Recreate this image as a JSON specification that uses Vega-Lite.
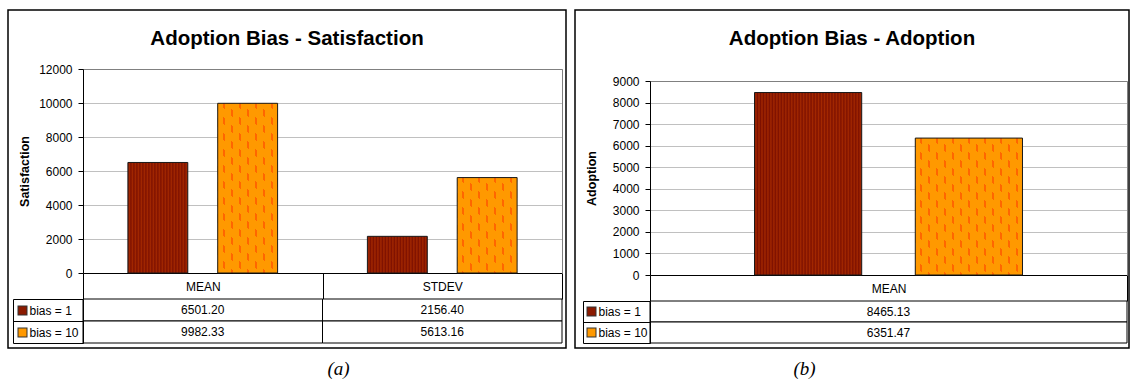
{
  "$schema": "https://vega.github.io/schema/vega-lite/v6.json",
  "background": "#ffffff",
  "padding": {"left": 7, "top": 3, "right": 0, "bottom": 0},
  "spacing": 7,
  "resolve": {"scale": {"xOffset": "independent"}},
  "config": {
    "font": "Liberation Sans",
    "view": {"stroke": "#000000", "strokeWidth": 1.5},
    "axis": {"labelFont": "Liberation Sans", "titleFont": "Liberation Sans", "labelColor": "#000000", "titleColor": "#000000"}
  },
  "datasets": {
    "sat": [
      {"category": "MEAN", "series": "bias = 1", "value": 6501.20},
      {"category": "MEAN", "series": "bias = 10", "value": 9982.33},
      {"category": "STDEV", "series": "bias = 1", "value": 2156.40},
      {"category": "STDEV", "series": "bias = 10", "value": 5613.16}
    ],
    "adopt": [
      {"category": "MEAN", "series": "bias = 1", "value": 8465.13},
      {"category": "MEAN", "series": "bias = 10", "value": 6351.47}
    ]
  },
  "hconcat": [
    {
      "width": 558,
      "height": 338,
      "data": {"name": "sat"},
      "title": {"text": "Adoption Bias - Satisfaction", "font": "Liberation Sans", "fontSize": 20.5, "fontWeight": "bold", "color": "#000000", "anchor": "middle", "frame": "group", "baseline": "alphabetic", "offset": -61.5},
      "resolve": {"scale": {"y": "independent"}},
      "layer": [
        {
          "transform": [{"filter": "datum.series === 'bias = 1'"}],
          "mark": {"type": "bar", "stroke": "#1a1a1a", "strokeWidth": 1,
            "fill": {"gradient": "linear", "x1": 0, "y1": 0, "x2": 1, "y2": 0, "stops": [
              {"offset": 0, "color": "#7D1000"}, {"offset": 0.025, "color": "#A32800"}, {"offset": 0.05, "color": "#7D1000"}, {"offset": 0.075, "color": "#A32800"},
              {"offset": 0.1, "color": "#7D1000"}, {"offset": 0.125, "color": "#A32800"}, {"offset": 0.15, "color": "#7D1000"}, {"offset": 0.175, "color": "#A32800"},
              {"offset": 0.2, "color": "#7D1000"}, {"offset": 0.225, "color": "#A32800"}, {"offset": 0.25, "color": "#7D1000"}, {"offset": 0.275, "color": "#A32800"},
              {"offset": 0.3, "color": "#7D1000"}, {"offset": 0.325, "color": "#A32800"}, {"offset": 0.35, "color": "#7D1000"}, {"offset": 0.375, "color": "#A32800"},
              {"offset": 0.4, "color": "#7D1000"}, {"offset": 0.425, "color": "#A32800"}, {"offset": 0.45, "color": "#7D1000"}, {"offset": 0.475, "color": "#A32800"},
              {"offset": 0.5, "color": "#7D1000"}, {"offset": 0.525, "color": "#A32800"}, {"offset": 0.55, "color": "#7D1000"}, {"offset": 0.575, "color": "#A32800"},
              {"offset": 0.6, "color": "#7D1000"}, {"offset": 0.625, "color": "#A32800"}, {"offset": 0.65, "color": "#7D1000"}, {"offset": 0.675, "color": "#A32800"},
              {"offset": 0.7, "color": "#7D1000"}, {"offset": 0.725, "color": "#A32800"}, {"offset": 0.75, "color": "#7D1000"}, {"offset": 0.775, "color": "#A32800"},
              {"offset": 0.8, "color": "#7D1000"}, {"offset": 0.825, "color": "#A32800"}, {"offset": 0.85, "color": "#7D1000"}, {"offset": 0.875, "color": "#A32800"},
              {"offset": 0.9, "color": "#7D1000"}, {"offset": 0.925, "color": "#A32800"}, {"offset": 0.95, "color": "#7D1000"}, {"offset": 0.975, "color": "#A32800"},
              {"offset": 1, "color": "#7D1000"}
            ]}
          },
          "encoding": {
            "x": {"field": "category", "type": "nominal",
              "scale": {"domain": ["MEAN", "STDEV"], "range": [75, 554], "paddingInner": 0, "paddingOuter": 0},
              "axis": {"orient": "bottom", "offset": -75, "domain": true, "domainColor": "#000000", "ticks": true, "tickBand": "extent", "tickSize": 26, "tickColor": "#000000",
                "labelAngle": 0, "labelBaseline": "middle", "labelPadding": -13, "labelFontSize": 12, "grid": false,
                "title": "(a)", "titleFont": "Liberation Serif", "titleFontStyle": "italic", "titleFontWeight": "normal", "titleFontSize": 19,
                "titleX": 330, "titleY": 95, "titleBaseline": "middle", "titleAlign": "center"}},
            "xOffset": {"field": "series", "type": "nominal", "scale": {"domain": ["bias = 1", "bias = 10"], "paddingInner": 0.3333, "paddingOuter": 0.5}},
            "y": {"field": "value", "type": "quantitative",
              "scale": {"domain": [0, 12000], "range": [263, 59], "nice": false, "zero": false},
              "axis": {"orient": "left", "offset": -75, "values": [0, 2000, 4000, 6000, 8000, 10000, 12000], "format": "d",
                "grid": true, "gridColor": "#c0c0c0", "gridWidth": 1, "domain": true, "domainColor": "#000000", "ticks": true, "tickSize": 5, "tickColor": "#000000",
                "labelPadding": 6, "labelFontSize": 12,
                "title": "Satisfaction", "titleFontSize": 12.5, "titleFontWeight": "bold", "titleX": -55, "titleBaseline": "alphabetic"}}
          }
        },
        {
          "transform": [{"filter": "datum.series === 'bias = 10'"}],
          "mark": {"type": "bar", "strokeWidth": 0,
            "fill": {"gradient": "linear", "x1": 0, "y1": 0, "x2": 1, "y2": 0, "stops": [
              {"offset": 0, "color": "#FF9900"},
              {"offset": 0.0833, "color": "#FF9900"}, {"offset": 0.0833, "color": "#FF6600"}, {"offset": 0.1167, "color": "#FF6600"}, {"offset": 0.1167, "color": "#FF9900"},
              {"offset": 0.2167, "color": "#FF9900"}, {"offset": 0.2167, "color": "#FF6600"}, {"offset": 0.25, "color": "#FF6600"}, {"offset": 0.25, "color": "#FF9900"},
              {"offset": 0.35, "color": "#FF9900"}, {"offset": 0.35, "color": "#FF6600"}, {"offset": 0.3833, "color": "#FF6600"}, {"offset": 0.3833, "color": "#FF9900"},
              {"offset": 0.4833, "color": "#FF9900"}, {"offset": 0.4833, "color": "#FF6600"}, {"offset": 0.5167, "color": "#FF6600"}, {"offset": 0.5167, "color": "#FF9900"},
              {"offset": 0.6167, "color": "#FF9900"}, {"offset": 0.6167, "color": "#FF6600"}, {"offset": 0.65, "color": "#FF6600"}, {"offset": 0.65, "color": "#FF9900"},
              {"offset": 0.75, "color": "#FF9900"}, {"offset": 0.75, "color": "#FF6600"}, {"offset": 0.7833, "color": "#FF6600"}, {"offset": 0.7833, "color": "#FF9900"},
              {"offset": 0.8833, "color": "#FF9900"}, {"offset": 0.8833, "color": "#FF6600"}, {"offset": 0.9167, "color": "#FF6600"}, {"offset": 0.9167, "color": "#FF9900"},
              {"offset": 1, "color": "#FF9900"}
            ]}
          },
          "encoding": {
            "x": {"field": "category", "type": "nominal",
              "axis": {"orient": "top", "offset": -59, "domain": true, "domainColor": "#808080", "ticks": false, "labels": false, "grid": false, "title": null}},
            "xOffset": {"field": "series", "type": "nominal"},
            "y": {"field": "value", "type": "quantitative",
              "scale": {"domain": [0, 12000], "range": [263, 59], "nice": false, "zero": false},
              "axis": {"orient": "right", "offset": -4, "domain": true, "domainColor": "#808080", "ticks": false, "labels": false, "grid": false, "title": null}}
          }
        },
        {
          "transform": [{"filter": "datum.series === 'bias = 10' && datum.category === 'MEAN'"}],
          "mark": {"type": "bar", "stroke": "#1a1a1a", "strokeWidth": 1,
            "fill": {"gradient": "linear", "x1": 1, "y1": 0, "x2": 0.4074, "y2": 1.6762, "stops": [
              {"offset": 0, "color": "#FF9900"},
              {"offset": 0.0125, "color": "#FF9900"}, {"offset": 0.0125, "color": "rgba(255,153,0,0)"}, {"offset": 0.0344, "color": "rgba(255,153,0,0)"}, {"offset": 0.0344, "color": "#FF9900"},
              {"offset": 0.0625, "color": "#FF9900"}, {"offset": 0.0625, "color": "rgba(255,153,0,0)"}, {"offset": 0.0844, "color": "rgba(255,153,0,0)"}, {"offset": 0.0844, "color": "#FF9900"},
              {"offset": 0.1125, "color": "#FF9900"}, {"offset": 0.1125, "color": "rgba(255,153,0,0)"}, {"offset": 0.1344, "color": "rgba(255,153,0,0)"}, {"offset": 0.1344, "color": "#FF9900"},
              {"offset": 0.1625, "color": "#FF9900"}, {"offset": 0.1625, "color": "rgba(255,153,0,0)"}, {"offset": 0.1844, "color": "rgba(255,153,0,0)"}, {"offset": 0.1844, "color": "#FF9900"},
              {"offset": 0.2125, "color": "#FF9900"}, {"offset": 0.2125, "color": "rgba(255,153,0,0)"}, {"offset": 0.2344, "color": "rgba(255,153,0,0)"}, {"offset": 0.2344, "color": "#FF9900"},
              {"offset": 0.2625, "color": "#FF9900"}, {"offset": 0.2625, "color": "rgba(255,153,0,0)"}, {"offset": 0.2844, "color": "rgba(255,153,0,0)"}, {"offset": 0.2844, "color": "#FF9900"},
              {"offset": 0.3125, "color": "#FF9900"}, {"offset": 0.3125, "color": "rgba(255,153,0,0)"}, {"offset": 0.3344, "color": "rgba(255,153,0,0)"}, {"offset": 0.3344, "color": "#FF9900"},
              {"offset": 0.3625, "color": "#FF9900"}, {"offset": 0.3625, "color": "rgba(255,153,0,0)"}, {"offset": 0.3844, "color": "rgba(255,153,0,0)"}, {"offset": 0.3844, "color": "#FF9900"},
              {"offset": 0.4125, "color": "#FF9900"}, {"offset": 0.4125, "color": "rgba(255,153,0,0)"}, {"offset": 0.4344, "color": "rgba(255,153,0,0)"}, {"offset": 0.4344, "color": "#FF9900"},
              {"offset": 0.4625, "color": "#FF9900"}, {"offset": 0.4625, "color": "rgba(255,153,0,0)"}, {"offset": 0.4844, "color": "rgba(255,153,0,0)"}, {"offset": 0.4844, "color": "#FF9900"},
              {"offset": 0.5125, "color": "#FF9900"}, {"offset": 0.5125, "color": "rgba(255,153,0,0)"}, {"offset": 0.5344, "color": "rgba(255,153,0,0)"}, {"offset": 0.5344, "color": "#FF9900"},
              {"offset": 0.5625, "color": "#FF9900"}, {"offset": 0.5625, "color": "rgba(255,153,0,0)"}, {"offset": 0.5844, "color": "rgba(255,153,0,0)"}, {"offset": 0.5844, "color": "#FF9900"},
              {"offset": 0.6125, "color": "#FF9900"}, {"offset": 0.6125, "color": "rgba(255,153,0,0)"}, {"offset": 0.6344, "color": "rgba(255,153,0,0)"}, {"offset": 0.6344, "color": "#FF9900"},
              {"offset": 0.6625, "color": "#FF9900"}, {"offset": 0.6625, "color": "rgba(255,153,0,0)"}, {"offset": 0.6844, "color": "rgba(255,153,0,0)"}, {"offset": 0.6844, "color": "#FF9900"},
              {"offset": 0.7125, "color": "#FF9900"}, {"offset": 0.7125, "color": "rgba(255,153,0,0)"}, {"offset": 0.7344, "color": "rgba(255,153,0,0)"}, {"offset": 0.7344, "color": "#FF9900"},
              {"offset": 0.7625, "color": "#FF9900"}, {"offset": 0.7625, "color": "rgba(255,153,0,0)"}, {"offset": 0.7844, "color": "rgba(255,153,0,0)"}, {"offset": 0.7844, "color": "#FF9900"},
              {"offset": 1, "color": "#FF9900"}
            ]}
          },
          "encoding": {
            "x": {"field": "category", "type": "nominal", "axis": null},
            "xOffset": {"field": "series", "type": "nominal"},
            "y": {"field": "value", "type": "quantitative", "scale": {"domain": [0, 12000], "range": [263, 59], "nice": false, "zero": false}, "axis": null}
          }
        },
        {
          "transform": [{"filter": "datum.series === 'bias = 10' && datum.category === 'STDEV'"}],
          "mark": {"type": "bar", "stroke": "#1a1a1a", "strokeWidth": 1,
            "fill": {"gradient": "linear", "x1": 1, "y1": 0, "x2": -0.5112, "y2": 2.4034, "stops": [
              {"offset": 0, "color": "#FF9900"},
              {"offset": 0.0125, "color": "#FF9900"}, {"offset": 0.0125, "color": "rgba(255,153,0,0)"}, {"offset": 0.0344, "color": "rgba(255,153,0,0)"}, {"offset": 0.0344, "color": "#FF9900"},
              {"offset": 0.0625, "color": "#FF9900"}, {"offset": 0.0625, "color": "rgba(255,153,0,0)"}, {"offset": 0.0844, "color": "rgba(255,153,0,0)"}, {"offset": 0.0844, "color": "#FF9900"},
              {"offset": 0.1125, "color": "#FF9900"}, {"offset": 0.1125, "color": "rgba(255,153,0,0)"}, {"offset": 0.1344, "color": "rgba(255,153,0,0)"}, {"offset": 0.1344, "color": "#FF9900"},
              {"offset": 0.1625, "color": "#FF9900"}, {"offset": 0.1625, "color": "rgba(255,153,0,0)"}, {"offset": 0.1844, "color": "rgba(255,153,0,0)"}, {"offset": 0.1844, "color": "#FF9900"},
              {"offset": 0.2125, "color": "#FF9900"}, {"offset": 0.2125, "color": "rgba(255,153,0,0)"}, {"offset": 0.2344, "color": "rgba(255,153,0,0)"}, {"offset": 0.2344, "color": "#FF9900"},
              {"offset": 0.2625, "color": "#FF9900"}, {"offset": 0.2625, "color": "rgba(255,153,0,0)"}, {"offset": 0.2844, "color": "rgba(255,153,0,0)"}, {"offset": 0.2844, "color": "#FF9900"},
              {"offset": 0.3125, "color": "#FF9900"}, {"offset": 0.3125, "color": "rgba(255,153,0,0)"}, {"offset": 0.3344, "color": "rgba(255,153,0,0)"}, {"offset": 0.3344, "color": "#FF9900"},
              {"offset": 0.3625, "color": "#FF9900"}, {"offset": 0.3625, "color": "rgba(255,153,0,0)"}, {"offset": 0.3844, "color": "rgba(255,153,0,0)"}, {"offset": 0.3844, "color": "#FF9900"},
              {"offset": 0.4125, "color": "#FF9900"}, {"offset": 0.4125, "color": "rgba(255,153,0,0)"}, {"offset": 0.4344, "color": "rgba(255,153,0,0)"}, {"offset": 0.4344, "color": "#FF9900"},
              {"offset": 0.4625, "color": "#FF9900"}, {"offset": 0.4625, "color": "rgba(255,153,0,0)"}, {"offset": 0.4844, "color": "rgba(255,153,0,0)"}, {"offset": 0.4844, "color": "#FF9900"},
              {"offset": 1, "color": "#FF9900"}
            ]}
          },
          "encoding": {
            "x": {"field": "category", "type": "nominal", "axis": null},
            "xOffset": {"field": "series", "type": "nominal"},
            "y": {"field": "value", "type": "quantitative", "scale": {"domain": [0, 12000], "range": [263, 59], "nice": false, "zero": false}, "axis": null}
          }
        },
        {
          "mark": {"type": "rect", "fill": "#ffffff", "stroke": "#000000", "strokeWidth": 1},
          "encoding": {
            "x": {"field": "category", "type": "nominal", "axis": null},
            "y": {"field": "series", "type": "nominal",
              "scale": {"type": "band", "domain": ["bias = 1", "bias = 10"], "range": [289, 333], "paddingInner": 0, "paddingOuter": 0},
              "axis": {"orient": "left", "offset": -75, "domain": true, "domainColor": "#000000", "ticks": true, "tickBand": "extent", "tickSize": 70, "tickColor": "#000000",
                "labels": true, "labelAlign": "left", "labelBaseline": "middle", "labelPadding": -16, "labelFontSize": 12, "grid": false, "title": null}}
          }
        },
        {
          "mark": {"type": "text", "font": "Liberation Sans", "fontSize": 12, "color": "#000000", "align": "center", "baseline": "middle"},
          "encoding": {
            "x": {"field": "category", "type": "nominal", "axis": null},
            "y": {"field": "series", "type": "nominal",
              "scale": {"type": "band", "domain": ["bias = 1", "bias = 10"], "range": [289, 333], "paddingInner": 0, "paddingOuter": 0},
              "axis": {"orient": "left", "offset": -5, "domain": true, "domainColor": "#000000", "ticks": false, "labels": false, "grid": false, "title": null}},
            "text": {"field": "value", "type": "quantitative", "format": ".2f"}
          }
        },
        {
          "mark": {"type": "text", "opacity": 0},
          "encoding": {
            "x": {"field": "category", "type": "nominal", "axis": null},
            "y": {"field": "series", "type": "nominal",
              "scale": {"type": "band", "domain": ["bias = 1", "bias = 10"], "range": [289, 333], "paddingInner": 0, "paddingOuter": 0},
              "axis": {"orient": "left", "offset": -19, "domain": false, "ticks": true, "tickSize": 10, "tickWidth": 10, "tickColor": "#333333", "labels": false, "grid": false, "title": null}},
            "text": {"field": "series", "type": "nominal"}
          }
        },
        {
          "mark": {"type": "text", "opacity": 0},
          "encoding": {
            "x": {"field": "category", "type": "nominal", "axis": null},
            "y": {"field": "series", "type": "nominal",
              "scale": {"type": "band", "domain": ["bias = 1", "bias = 10"], "range": [289, 333], "paddingInner": 0, "paddingOuter": 0},
              "axis": {"orient": "left", "offset": -18, "domain": false, "ticks": true, "tickSize": 8, "tickWidth": 8,
                "tickColor": {"condition": {"test": "datum.value === 'bias = 1'", "value": "#8B1A00"}, "value": "#FF9900"},
                "labels": false, "grid": false, "title": null}},
            "text": {"field": "series", "type": "nominal"}
          }
        }
      ]
    },
    {
      "width": 554,
      "height": 338,
      "data": {"name": "adopt"},
      "title": {"text": "Adoption Bias - Adoption", "font": "Liberation Sans", "fontSize": 20.5, "fontWeight": "bold", "color": "#000000", "anchor": "middle", "frame": "group", "baseline": "alphabetic", "offset": -61.5},
      "resolve": {"scale": {"y": "independent"}},
      "layer": [
        {
          "transform": [{"filter": "datum.series === 'bias = 1'"}],
          "mark": {"type": "bar", "stroke": "#1a1a1a", "strokeWidth": 1,
            "fill": {"gradient": "linear", "x1": 0, "y1": 0, "x2": 1, "y2": 0, "stops": [
              {"offset": 0, "color": "#7D1000"}, {"offset": 0.0139, "color": "#A32800"}, {"offset": 0.0278, "color": "#7D1000"}, {"offset": 0.0417, "color": "#A32800"},
              {"offset": 0.0556, "color": "#7D1000"}, {"offset": 0.0694, "color": "#A32800"}, {"offset": 0.0833, "color": "#7D1000"}, {"offset": 0.0972, "color": "#A32800"},
              {"offset": 0.1111, "color": "#7D1000"}, {"offset": 0.125, "color": "#A32800"}, {"offset": 0.1389, "color": "#7D1000"}, {"offset": 0.1528, "color": "#A32800"},
              {"offset": 0.1667, "color": "#7D1000"}, {"offset": 0.1806, "color": "#A32800"}, {"offset": 0.1944, "color": "#7D1000"}, {"offset": 0.2083, "color": "#A32800"},
              {"offset": 0.2222, "color": "#7D1000"}, {"offset": 0.2361, "color": "#A32800"}, {"offset": 0.25, "color": "#7D1000"}, {"offset": 0.2639, "color": "#A32800"},
              {"offset": 0.2778, "color": "#7D1000"}, {"offset": 0.2917, "color": "#A32800"}, {"offset": 0.3056, "color": "#7D1000"}, {"offset": 0.3194, "color": "#A32800"},
              {"offset": 0.3333, "color": "#7D1000"}, {"offset": 0.3472, "color": "#A32800"}, {"offset": 0.3611, "color": "#7D1000"}, {"offset": 0.375, "color": "#A32800"},
              {"offset": 0.3889, "color": "#7D1000"}, {"offset": 0.4028, "color": "#A32800"}, {"offset": 0.4167, "color": "#7D1000"}, {"offset": 0.4306, "color": "#A32800"},
              {"offset": 0.4444, "color": "#7D1000"}, {"offset": 0.4583, "color": "#A32800"}, {"offset": 0.4722, "color": "#7D1000"}, {"offset": 0.4861, "color": "#A32800"},
              {"offset": 0.5, "color": "#7D1000"}, {"offset": 0.5139, "color": "#A32800"}, {"offset": 0.5278, "color": "#7D1000"}, {"offset": 0.5417, "color": "#A32800"},
              {"offset": 0.5556, "color": "#7D1000"}, {"offset": 0.5694, "color": "#A32800"}, {"offset": 0.5833, "color": "#7D1000"}, {"offset": 0.5972, "color": "#A32800"},
              {"offset": 0.6111, "color": "#7D1000"}, {"offset": 0.625, "color": "#A32800"}, {"offset": 0.6389, "color": "#7D1000"}, {"offset": 0.6528, "color": "#A32800"},
              {"offset": 0.6667, "color": "#7D1000"}, {"offset": 0.6806, "color": "#A32800"}, {"offset": 0.6944, "color": "#7D1000"}, {"offset": 0.7083, "color": "#A32800"},
              {"offset": 0.7222, "color": "#7D1000"}, {"offset": 0.7361, "color": "#A32800"}, {"offset": 0.75, "color": "#7D1000"}, {"offset": 0.7639, "color": "#A32800"},
              {"offset": 0.7778, "color": "#7D1000"}, {"offset": 0.7917, "color": "#A32800"}, {"offset": 0.8056, "color": "#7D1000"}, {"offset": 0.8194, "color": "#A32800"},
              {"offset": 0.8333, "color": "#7D1000"}, {"offset": 0.8472, "color": "#A32800"}, {"offset": 0.8611, "color": "#7D1000"}, {"offset": 0.875, "color": "#A32800"},
              {"offset": 0.8889, "color": "#7D1000"}, {"offset": 0.9028, "color": "#A32800"}, {"offset": 0.9167, "color": "#7D1000"}, {"offset": 0.9306, "color": "#A32800"},
              {"offset": 0.9444, "color": "#7D1000"}, {"offset": 0.9583, "color": "#A32800"}, {"offset": 0.9722, "color": "#7D1000"}, {"offset": 0.9861, "color": "#A32800"},
              {"offset": 1, "color": "#7D1000"}
            ]}
          },
          "encoding": {
            "x": {"field": "category", "type": "nominal",
              "scale": {"domain": ["MEAN"], "range": [75, 552], "paddingInner": 0, "paddingOuter": 0},
              "axis": {"orient": "bottom", "offset": -73, "domain": true, "domainColor": "#000000", "ticks": true, "tickBand": "extent", "tickSize": 26, "tickColor": "#000000",
                "labelAngle": 0, "labelBaseline": "middle", "labelPadding": -13, "labelFontSize": 12, "grid": false,
                "title": "(b)", "titleFont": "Liberation Serif", "titleFontStyle": "italic", "titleFontWeight": "normal", "titleFontSize": 19,
                "titleX": 229, "titleY": 93, "titleBaseline": "middle", "titleAlign": "center"}},
            "xOffset": {"field": "series", "type": "nominal", "scale": {"domain": ["bias = 1", "bias = 10"], "paddingInner": 0.3333, "paddingOuter": 0.65}},
            "y": {"field": "value", "type": "quantitative",
              "scale": {"domain": [0, 9000], "range": [265, 71], "nice": false, "zero": false},
              "axis": {"orient": "left", "offset": -75, "values": [0, 1000, 2000, 3000, 4000, 5000, 6000, 7000, 8000, 9000], "format": "d",
                "grid": true, "gridColor": "#c0c0c0", "gridWidth": 1, "domain": true, "domainColor": "#000000", "ticks": true, "tickSize": 5, "tickColor": "#000000",
                "labelPadding": 6, "labelFontSize": 12,
                "title": "Adoption", "titleFontSize": 12.5, "titleFontWeight": "bold", "titleX": -55, "titleBaseline": "alphabetic"}}
          }
        },
        {
          "transform": [{"filter": "datum.series === 'bias = 10'"}],
          "mark": {"type": "bar", "strokeWidth": 0,
            "fill": {"gradient": "linear", "x1": 0, "y1": 0, "x2": 1, "y2": 0, "stops": [
              {"offset": 0, "color": "#FF9900"},
              {"offset": 0.0429, "color": "#FF9900"}, {"offset": 0.0429, "color": "#FF6600"}, {"offset": 0.0616, "color": "#FF6600"}, {"offset": 0.0616, "color": "#FF9900"},
              {"offset": 0.1175, "color": "#FF9900"}, {"offset": 0.1175, "color": "#FF6600"}, {"offset": 0.1362, "color": "#FF6600"}, {"offset": 0.1362, "color": "#FF9900"},
              {"offset": 0.1922, "color": "#FF9900"}, {"offset": 0.1922, "color": "#FF6600"}, {"offset": 0.2108, "color": "#FF6600"}, {"offset": 0.2108, "color": "#FF9900"},
              {"offset": 0.2668, "color": "#FF9900"}, {"offset": 0.2668, "color": "#FF6600"}, {"offset": 0.2854, "color": "#FF6600"}, {"offset": 0.2854, "color": "#FF9900"},
              {"offset": 0.3414, "color": "#FF9900"}, {"offset": 0.3414, "color": "#FF6600"}, {"offset": 0.3601, "color": "#FF6600"}, {"offset": 0.3601, "color": "#FF9900"},
              {"offset": 0.416, "color": "#FF9900"}, {"offset": 0.416, "color": "#FF6600"}, {"offset": 0.4347, "color": "#FF6600"}, {"offset": 0.4347, "color": "#FF9900"},
              {"offset": 0.4907, "color": "#FF9900"}, {"offset": 0.4907, "color": "#FF6600"}, {"offset": 0.5093, "color": "#FF6600"}, {"offset": 0.5093, "color": "#FF9900"},
              {"offset": 0.5653, "color": "#FF9900"}, {"offset": 0.5653, "color": "#FF6600"}, {"offset": 0.584, "color": "#FF6600"}, {"offset": 0.584, "color": "#FF9900"},
              {"offset": 0.6399, "color": "#FF9900"}, {"offset": 0.6399, "color": "#FF6600"}, {"offset": 0.6586, "color": "#FF6600"}, {"offset": 0.6586, "color": "#FF9900"},
              {"offset": 0.7146, "color": "#FF9900"}, {"offset": 0.7146, "color": "#FF6600"}, {"offset": 0.7332, "color": "#FF6600"}, {"offset": 0.7332, "color": "#FF9900"},
              {"offset": 0.7892, "color": "#FF9900"}, {"offset": 0.7892, "color": "#FF6600"}, {"offset": 0.8078, "color": "#FF6600"}, {"offset": 0.8078, "color": "#FF9900"},
              {"offset": 0.8638, "color": "#FF9900"}, {"offset": 0.8638, "color": "#FF6600"}, {"offset": 0.8825, "color": "#FF6600"}, {"offset": 0.8825, "color": "#FF9900"},
              {"offset": 0.9384, "color": "#FF9900"}, {"offset": 0.9384, "color": "#FF6600"}, {"offset": 0.9571, "color": "#FF6600"}, {"offset": 0.9571, "color": "#FF9900"},
              {"offset": 1, "color": "#FF9900"}
            ]}
          },
          "encoding": {
            "x": {"field": "category", "type": "nominal",
              "axis": {"orient": "top", "offset": -71, "domain": true, "domainColor": "#808080", "ticks": false, "labels": false, "grid": false, "title": null}},
            "xOffset": {"field": "series", "type": "nominal"},
            "y": {"field": "value", "type": "quantitative",
              "scale": {"domain": [0, 9000], "range": [265, 71], "nice": false, "zero": false},
              "axis": {"orient": "right", "offset": -2, "domain": true, "domainColor": "#808080", "ticks": false, "labels": false, "grid": false, "title": null}}
          }
        },
        {
          "transform": [{"filter": "datum.series === 'bias = 10'"}],
          "mark": {"type": "bar", "stroke": "#1a1a1a", "strokeWidth": 1,
            "fill": {"gradient": "linear", "x1": 1, "y1": 0, "x2": -0.1345, "y2": 1.4491, "stops": [
              {"offset": 0, "color": "#FF9900"},
              {"offset": 0.0125, "color": "#FF9900"}, {"offset": 0.0125, "color": "rgba(255,153,0,0)"}, {"offset": 0.0344, "color": "rgba(255,153,0,0)"}, {"offset": 0.0344, "color": "#FF9900"},
              {"offset": 0.0625, "color": "#FF9900"}, {"offset": 0.0625, "color": "rgba(255,153,0,0)"}, {"offset": 0.0844, "color": "rgba(255,153,0,0)"}, {"offset": 0.0844, "color": "#FF9900"},
              {"offset": 0.1125, "color": "#FF9900"}, {"offset": 0.1125, "color": "rgba(255,153,0,0)"}, {"offset": 0.1344, "color": "rgba(255,153,0,0)"}, {"offset": 0.1344, "color": "#FF9900"},
              {"offset": 0.1625, "color": "#FF9900"}, {"offset": 0.1625, "color": "rgba(255,153,0,0)"}, {"offset": 0.1844, "color": "rgba(255,153,0,0)"}, {"offset": 0.1844, "color": "#FF9900"},
              {"offset": 0.2125, "color": "#FF9900"}, {"offset": 0.2125, "color": "rgba(255,153,0,0)"}, {"offset": 0.2344, "color": "rgba(255,153,0,0)"}, {"offset": 0.2344, "color": "#FF9900"},
              {"offset": 0.2625, "color": "#FF9900"}, {"offset": 0.2625, "color": "rgba(255,153,0,0)"}, {"offset": 0.2844, "color": "rgba(255,153,0,0)"}, {"offset": 0.2844, "color": "#FF9900"},
              {"offset": 0.3125, "color": "#FF9900"}, {"offset": 0.3125, "color": "rgba(255,153,0,0)"}, {"offset": 0.3344, "color": "rgba(255,153,0,0)"}, {"offset": 0.3344, "color": "#FF9900"},
              {"offset": 0.3625, "color": "#FF9900"}, {"offset": 0.3625, "color": "rgba(255,153,0,0)"}, {"offset": 0.3844, "color": "rgba(255,153,0,0)"}, {"offset": 0.3844, "color": "#FF9900"},
              {"offset": 0.4125, "color": "#FF9900"}, {"offset": 0.4125, "color": "rgba(255,153,0,0)"}, {"offset": 0.4344, "color": "rgba(255,153,0,0)"}, {"offset": 0.4344, "color": "#FF9900"},
              {"offset": 0.4625, "color": "#FF9900"}, {"offset": 0.4625, "color": "rgba(255,153,0,0)"}, {"offset": 0.4844, "color": "rgba(255,153,0,0)"}, {"offset": 0.4844, "color": "#FF9900"},
              {"offset": 0.5125, "color": "#FF9900"}, {"offset": 0.5125, "color": "rgba(255,153,0,0)"}, {"offset": 0.5344, "color": "rgba(255,153,0,0)"}, {"offset": 0.5344, "color": "#FF9900"},
              {"offset": 0.5625, "color": "#FF9900"}, {"offset": 0.5625, "color": "rgba(255,153,0,0)"}, {"offset": 0.5844, "color": "rgba(255,153,0,0)"}, {"offset": 0.5844, "color": "#FF9900"},
              {"offset": 0.6125, "color": "#FF9900"}, {"offset": 0.6125, "color": "rgba(255,153,0,0)"}, {"offset": 0.6344, "color": "rgba(255,153,0,0)"}, {"offset": 0.6344, "color": "#FF9900"},
              {"offset": 0.6625, "color": "#FF9900"}, {"offset": 0.6625, "color": "rgba(255,153,0,0)"}, {"offset": 0.6844, "color": "rgba(255,153,0,0)"}, {"offset": 0.6844, "color": "#FF9900"},
              {"offset": 0.7125, "color": "#FF9900"}, {"offset": 0.7125, "color": "rgba(255,153,0,0)"}, {"offset": 0.7344, "color": "rgba(255,153,0,0)"}, {"offset": 0.7344, "color": "#FF9900"},
              {"offset": 0.7625, "color": "#FF9900"}, {"offset": 0.7625, "color": "rgba(255,153,0,0)"}, {"offset": 0.7844, "color": "rgba(255,153,0,0)"}, {"offset": 0.7844, "color": "#FF9900"},
              {"offset": 1, "color": "#FF9900"}
            ]}
          },
          "encoding": {
            "x": {"field": "category", "type": "nominal", "axis": null},
            "xOffset": {"field": "series", "type": "nominal"},
            "y": {"field": "value", "type": "quantitative", "scale": {"domain": [0, 9000], "range": [265, 71], "nice": false, "zero": false}, "axis": null}
          }
        },
        {
          "mark": {"type": "rect", "fill": "#ffffff", "stroke": "#000000", "strokeWidth": 1},
          "encoding": {
            "x": {"field": "category", "type": "nominal", "axis": null},
            "y": {"field": "series", "type": "nominal",
              "scale": {"type": "band", "domain": ["bias = 1", "bias = 10"], "range": [291, 333], "paddingInner": 0, "paddingOuter": 0},
              "axis": {"orient": "left", "offset": -75, "domain": true, "domainColor": "#000000", "ticks": true, "tickBand": "extent", "tickSize": 67, "tickColor": "#000000",
                "labels": true, "labelAlign": "left", "labelBaseline": "middle", "labelPadding": -15, "labelFontSize": 12, "grid": false, "title": null}}
          }
        },
        {
          "mark": {"type": "text", "font": "Liberation Sans", "fontSize": 12, "color": "#000000", "align": "center", "baseline": "middle"},
          "encoding": {
            "x": {"field": "category", "type": "nominal", "axis": null},
            "y": {"field": "series", "type": "nominal",
              "scale": {"type": "band", "domain": ["bias = 1", "bias = 10"], "range": [291, 333], "paddingInner": 0, "paddingOuter": 0},
              "axis": {"orient": "left", "offset": -8, "domain": true, "domainColor": "#000000", "ticks": false, "labels": false, "grid": false, "title": null}},
            "text": {"field": "value", "type": "quantitative", "format": ".2f"}
          }
        },
        {
          "mark": {"type": "text", "opacity": 0},
          "encoding": {
            "x": {"field": "category", "type": "nominal", "axis": null},
            "y": {"field": "series", "type": "nominal",
              "scale": {"type": "band", "domain": ["bias = 1", "bias = 10"], "range": [291, 333], "paddingInner": 0, "paddingOuter": 0},
              "axis": {"orient": "left", "offset": -21, "domain": false, "ticks": true, "tickSize": 10, "tickWidth": 10, "tickColor": "#333333", "labels": false, "grid": false, "title": null}},
            "text": {"field": "series", "type": "nominal"}
          }
        },
        {
          "mark": {"type": "text", "opacity": 0},
          "encoding": {
            "x": {"field": "category", "type": "nominal", "axis": null},
            "y": {"field": "series", "type": "nominal",
              "scale": {"type": "band", "domain": ["bias = 1", "bias = 10"], "range": [291, 333], "paddingInner": 0, "paddingOuter": 0},
              "axis": {"orient": "left", "offset": -20, "domain": false, "ticks": true, "tickSize": 8, "tickWidth": 8,
                "tickColor": {"condition": {"test": "datum.value === 'bias = 1'", "value": "#8B1A00"}, "value": "#FF9900"},
                "labels": false, "grid": false, "title": null}},
            "text": {"field": "series", "type": "nominal"}
          }
        }
      ]
    }
  ]
}
